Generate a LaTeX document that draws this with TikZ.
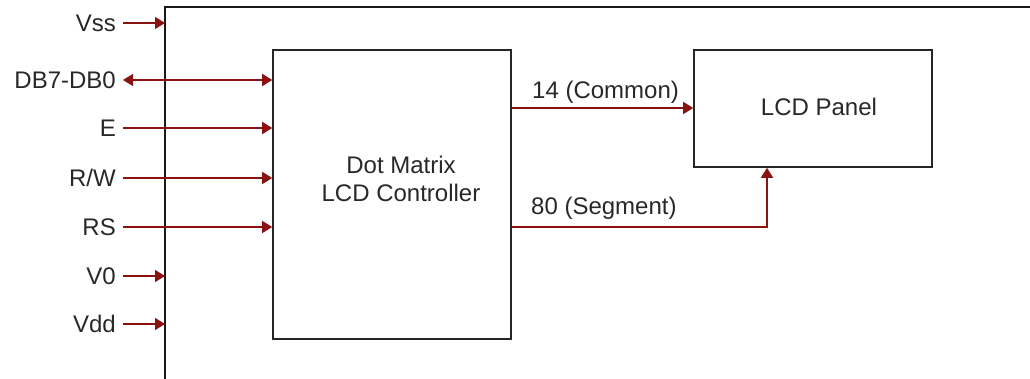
\documentclass[tikz,border=0pt]{standalone}
\usepackage{fontspec}
\setmainfont{Liberation Sans}
\usetikzlibrary{arrows.meta}
\definecolor{sigred}{RGB}{140,18,18}
\definecolor{txt}{RGB}{40,40,40}
\tikzset{
  lbl/.style={inner sep=0pt, text=txt, font=\fontsize{24}{29}\selectfont, text height=17.5pt, text depth=0pt},
  sig/.style={draw=sigred, line width=1.6pt, -{Triangle[length=10pt,width=12pt]}},
  dsig/.style={draw=sigred, line width=1.6pt, {Triangle[length=10pt,width=12pt]}-{Triangle[length=10pt,width=12pt]}},
  blk/.style={draw=black!85, line width=1.6pt, fill=white, inner sep=0pt},
}
\begin{document}
\begin{tikzpicture}[x=1pt,y=-1pt]
\useasboundingbox (0,0) rectangle (1030,379);
% outer frame
\coordinate (ftl) at (165,7);
\coordinate (ftr) at (1032,7);
\coordinate (fbl) at (165,381);
\draw[line width=1.6pt, black!90] (ftr) -- (ftl) -- (fbl);
% blocks
\node[blk, minimum width=238pt, minimum height=289pt] (ctrl) at (392,194.5) {};
\node[inner sep=0pt, text=txt, align=center, font=\fontsize{24}{28}\selectfont] (ctrltxt) at (401,179) {Dot Matrix\\LCD Controller};
\node[blk, minimum width=238pt, minimum height=117pt] (lcd) at (813,108.5) {};
\node[lbl] (lcdtxt) at (819,107) {LCD Panel};
% signal labels
\node[lbl, anchor=east] (vss) at (116,23) {Vss};
\node[lbl, anchor=east] (db) at (116,80) {DB7-DB0};
\node[lbl, anchor=east] (e) at (116,128) {E};
\node[lbl, anchor=east] (rw) at (116,178) {R/W};
\node[lbl, anchor=east] (rs) at (116,227) {RS};
\node[lbl, anchor=east] (v0) at (116,276) {V0};
\node[lbl, anchor=east] (vdd) at (116,324) {Vdd};
% signal arrows
\draw[sig] ([xshift=7pt]vss.east) -- (ftl |- vss.east);
\draw[dsig] ([xshift=7pt]db.east) -- (ctrl.west |- db.east);
\draw[sig] ([xshift=7pt]e.east) -- (ctrl.west |- e.east);
\draw[sig] ([xshift=7pt]rw.east) -- (ctrl.west |- rw.east);
\draw[sig] ([xshift=7pt]rs.east) -- (ctrl.west |- rs.east);
\draw[sig] ([xshift=7pt]v0.east) -- (ftl |- v0.east);
\draw[sig] ([xshift=7pt]vdd.east) -- (ftl |- vdd.east);
% outputs
\coordinate (com) at (ctrl.east |- 0,108);
\coordinate (seg) at (ctrl.east |- 0,227);
\coordinate (segc) at (767,227);
\draw[sig] (com) -- (lcd.west |- com);
\draw[sig] (seg) -- (segc) -- (lcd.south -| segc);
\node[lbl, anchor=west] (comlbl) at (532,90) {14 (Common)};
\node[lbl, anchor=west] (seglbl) at (531,206) {80 (Segment)};
\end{tikzpicture}
\end{document}
